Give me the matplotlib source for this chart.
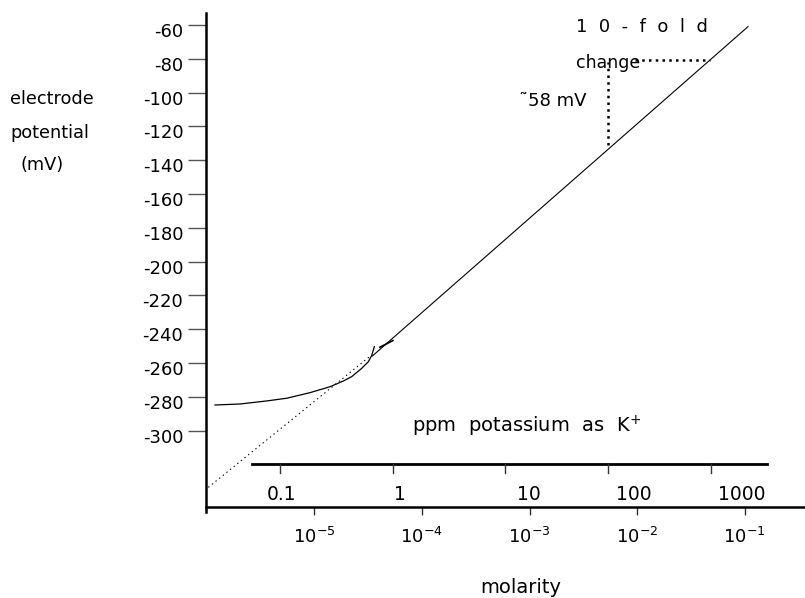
import numpy as np
import matplotlib.pyplot as plt
from matplotlib.ticker import NullLocator
from matplotlib.transforms import ScaledTranslation

plt.rcParams['font.family'] = 'DejaVu Sans'
plt.rcParams['axes.unicode_minus'] = False

# electrode potential axis (mV)
mv_ticks = [-60, -80, -100, -120, -140, -160, -180, -200, -220, -240, -260, -280, -300]

# molarity axis: log10 of K+ concentration
molar_exp = [-5, -4, -3, -2, -1]

# ppm scale drawn inside the plot (positions as log10 molarity)
ppm_labels = ['0.1', '1', '10', '100', '1000']
ppm_tick_logm = [-5.32, -4.27, -3.23, -2.27, -1.31]
ppm_label_logm = [-5.30, -4.20, -3.01, -2.03, -1.03]
ppm_span_logm = [-5.58, -0.79]
ppm_mv = -319.9

# linear (Nernstian) response
line_logm = [-4.46, -0.97]
line_mv = [-255.8, -61.0]

# dotted extrapolation of the linear part
extrap_logm = [-5.985, -4.473]
extrap_mv = [-333.5, -255.5]

# measured curve, flattening at low concentration
curve_logm = [-5.923, -5.690, -5.442, -5.256, -5.040, -4.854, -4.730,
              -4.652, -4.559, -4.498, -4.467, -4.442]
curve_mv = [-284.8, -284.2, -282.4, -280.8, -277.5, -274.0, -270.6,
            -268.0, -263.1, -259.2, -255.6, -250.3]
overlap_logm = [-4.39, -4.27]
overlap_mv = [-250.6, -246.7]

# 10-fold change construction
fold_v_logm = [-2.273, -2.273]
fold_v_mv = [-131.0, -81.8]
fold_h_logm = [-2.02, -1.32]
fold_h_mv = [-80.7, -80.7]

W, H = 805, 598
fig = plt.figure(figsize=(W / 100, H / 100), dpi=100)
ax = fig.add_axes([205.5 / W, 1 - 512 / H, (W - 205.5) / W, (512 - 13) / H])
ax.set_xscale('log')
ax.set_xlim(10 ** -6.011, 10 ** -0.440)
ax.set_ylim(-348.1, -52.9)

for s in ['top', 'right']:
    ax.spines[s].set_visible(False)
ax.spines['left'].set_linewidth(1.8)
ax.spines['bottom'].set_linewidth(1.8)
ax.spines['bottom'].set_position(('outward', -5 * 0.72))

ax.set_yticks(mv_ticks, [str(v) for v in mv_ticks])
ax.tick_params(axis='y', direction='out', length=13, width=1, color='#555555',
               pad=3, labelsize=13)
for lab in ax.get_yticklabels():
    lab.set_transform(lab.get_transform() + ScaledTranslation(0, -0.05, fig.dpi_scale_trans))

ax.set_xticks([10.0 ** e for e in molar_exp],
              [r'$\mathdefault{10^{%d}}$' % e for e in molar_exp])
ax.xaxis.set_minor_locator(NullLocator())
ax.tick_params(axis='x', direction='out', length=6, width=1, color='#333333',
               pad=8.5, labelsize=13)

def m(logs):
    return 10.0 ** np.array(logs)

ax.plot(m(line_logm), line_mv, color='black', lw=0.8)
ax.plot(m(curve_logm), curve_mv, color='black', lw=0.9)
ax.plot(m(overlap_logm), overlap_mv, color='black', lw=1.2)
ax.plot(m(extrap_logm), extrap_mv, color='black', lw=0.8, ls=(0, (1.2, 3)))
ax.plot(m(fold_v_logm), fold_v_mv, color='black', lw=1.8, ls=(0, (1, 1.7)))
ax.plot(m(fold_h_logm), fold_h_mv, color='black', lw=1.8, ls=(0, (1, 1.7)))

# ppm scale
ax.plot(m(ppm_span_logm), [ppm_mv, ppm_mv], color='black', lw=2)
for t in ppm_tick_logm:
    ax.plot(m([t, t]), [ppm_mv, ppm_mv - 5.3], color='#333333', lw=1)
for t, lab in zip(ppm_label_logm, ppm_labels):
    ax.text(10 ** t, -338.0, lab, ha='center', va='center', fontsize=13.5)

def fxy(x, y):
    return x / W, 1 - y / H

fig.text(*fxy(10, 104), 'electrode', fontsize=12.8, va='baseline')
fig.text(*fxy(10, 138.3), 'potential', fontsize=12.8, va='baseline')
fig.text(*fxy(20, 170), '(mV)', fontsize=12.8, va='baseline')
fig.text(*fxy(576, 31.7), '1  0  -  f  o  l  d', fontsize=13, va='baseline')
fig.text(*fxy(576, 67.7), 'change', fontsize=12.5, va='baseline')
fig.text(*fxy(519, 106), '\u02dc58 mV', fontsize=13, va='baseline')
fig.text(*fxy(412, 432.3), 'ppm  potassium  as  K$^{+}$', fontsize=14, va='baseline')
fig.text(*fxy(480, 593), 'molarity', fontsize=14, va='baseline')

fig.savefig('out.png', dpi=100)
